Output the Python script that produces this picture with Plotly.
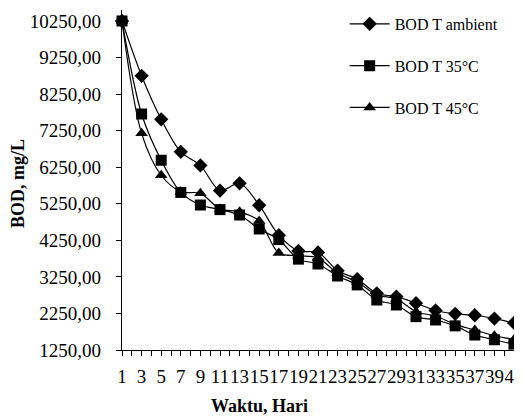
import plotly.graph_objects as go

days = [1, 3, 5, 7, 9, 11, 13, 15, 17, 19, 21, 23, 25, 27, 29, 31, 33, 35, 37, 39, 41]
bod_ambient = [10250, 8750, 7560, 6670, 6300, 5610, 5810, 5210, 4390, 3960, 3920, 3420, 3190,
               2800, 2710, 2530, 2330, 2240, 2200, 2110, 1990]
bod_35 = [10250, 7705, 6440, 5560, 5216, 5090, 4943, 4560, 4270, 3735, 3602, 3274, 3030,
          2618, 2481, 2162, 2071, 1910, 1660, 1530, 1410]
bod_45 = [10250, 7177, 6030, 5580, 5535, 5110, 5030, 4780, 3900, 3830, 3770, 3350, 3115,
          2754, 2650, 2298, 2180, 1950, 1797, 1640, 1540]
y_ticks = [1250, 2250, 3250, 4250, 5250, 6250, 7250, 8250, 9250, 10250]

FONT = "Liberation Serif, Times New Roman, serif"

series = [
    ("BOD T ambient", bod_ambient, "diamond", 11),
    ("BOD T 35°C", bod_35, "square", 11),
    ("BOD T 45°C", bod_45, "triangle-up", 11),
]

# page has an 8px body margin: figure coordinates = screen coordinates - 8
OFF = 8
W, H = 522 - OFF, 416 - OFF
L, R, T, B = 122 - OFF, 514 - OFF, 10 - OFF, 350 - OFF
PW, PH = R - L, B - T

fig = go.Figure()
for i, (name, vals, sym, sz) in enumerate(series):
    fig.add_trace(go.Scatter(
        x=days, y=vals, name=name, mode="lines+markers",
        line=dict(color="black", width=1.2, shape="spline", smoothing=0.9),
        marker=dict(symbol=sym, size=sz, color="black"),
        cliponaxis=False, legendgroup=f"g{i}",
    ))

fig.update_layout(
    width=W, height=H,
    margin=dict(l=L, r=W - R, t=T, b=H - B, autoexpand=False),
    paper_bgcolor="white", plot_bgcolor="white",
    font=dict(family=FONT, size=19, color="black"),
    separators=",.",
    showlegend=True,
    legend=dict(
        x=0.568, y=1.009, xanchor="left", yanchor="top",
        font=dict(family=FONT, size=16, color="black"),
        bgcolor="rgba(0,0,0,0)", tracegroupgap=18, itemwidth=40,
    ),
    xaxis=dict(
        range=[1, 41], tickmode="linear", tick0=1, dtick=2,
        showline=True, linecolor="black", linewidth=1.3,
        ticks="outside", ticklen=5, tickcolor="black", tickwidth=1,
        minor=dict(dtick=1, tick0=1, ticks="outside", ticklen=5, tickcolor="black", tickwidth=1),
        showgrid=False, zeroline=False, tickangle=0, automargin=False,
        ticklabeloverflow="allow", ticklabelstandoff=4,
        tickfont=dict(family=FONT, size=19),
    ),
    yaxis=dict(
        range=[1250, 10550], tickvals=y_ticks, tickformat=".2f",
        showline=True, linecolor="black", linewidth=1.3,
        ticks="outside", ticklen=5, tickcolor="black", tickwidth=1,
        showgrid=False, zeroline=False, automargin=False,
        ticklabelstandoff=11, ticklabeloverflow="allow",
        tickfont=dict(family=FONT, size=19),
    ),
    annotations=[
        dict(
            text="<b>Waktu, Hari</b>", xref="paper", yref="paper",
            x=(259 - 122) / PW, y=-(406 - 350) / PH, xanchor="center", yanchor="middle",
            showarrow=False, font=dict(family=FONT, size=18, color="black"),
        ),
        dict(
            text="<b>BOD, mg/L</b>", xref="paper", yref="paper",
            x=(18 - 122) / PW, y=(350 - 184) / PH, xanchor="center", yanchor="middle",
            textangle=-90, showarrow=False, font=dict(family=FONT, size=18, color="black"),
        ),
    ],
)

fig.write_html("out.html")
